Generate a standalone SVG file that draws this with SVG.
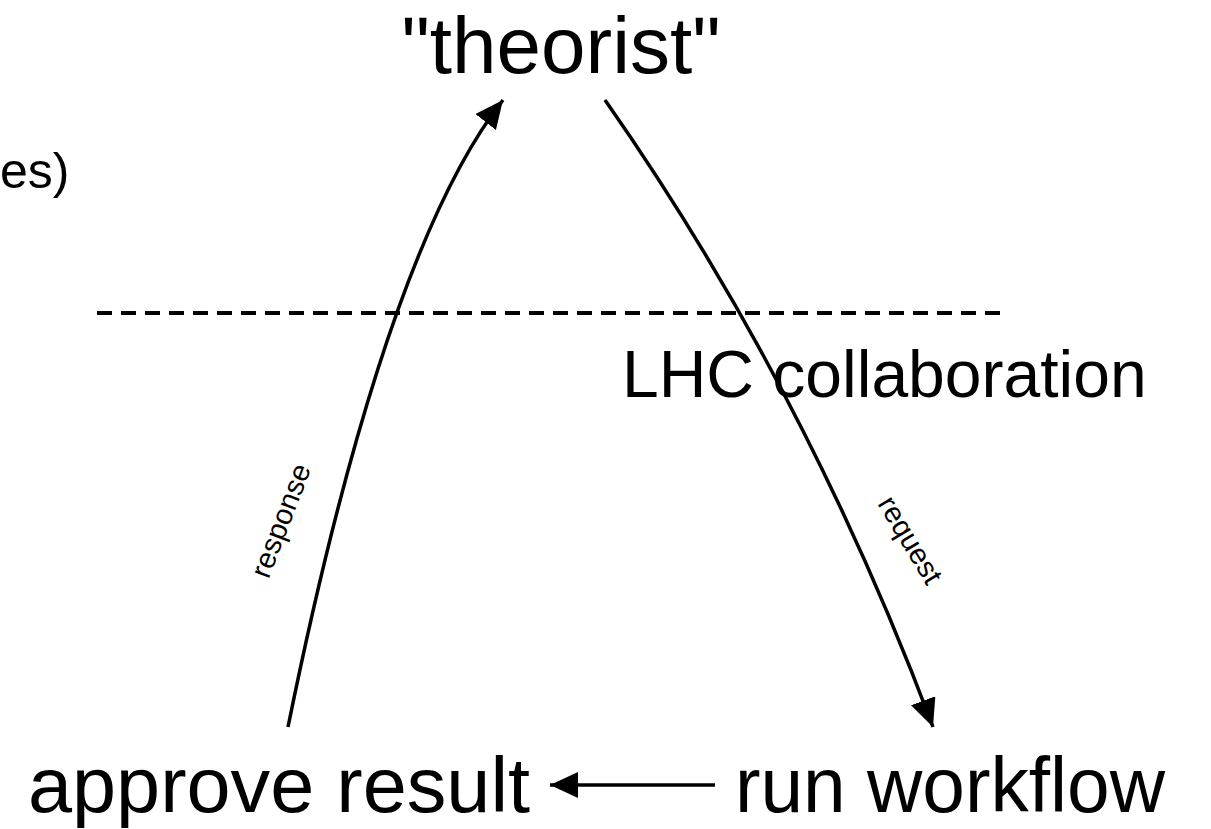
<svg xmlns="http://www.w3.org/2000/svg" width="1211" height="829" viewBox="0 0 1211 829">
  <style>
    text { font-family: "Liberation Sans", Arial, sans-serif; fill: #000; }
    .big { font-size: 78px; }
    .mid { font-size: 66px; }
    .small { font-size: 29px; }
    .edge { fill: none; stroke: #000; stroke-width: 3.5; }
  </style>
  <defs>
    <marker id="head" markerUnits="userSpaceOnUse" markerWidth="32" markerHeight="32" refX="28" refY="13" orient="auto">
      <path d="M0,0 L28,13 L0,26 Z" fill="#000"/>
    </marker>
  </defs>
  <rect width="1211" height="829" fill="#fff"/>

  <!-- partial label at left edge -->
  <text x="0" y="188" font-size="50px">es)</text>

  <!-- boundary between theorist and collaboration -->
  <line x1="97" y1="313" x2="1000" y2="313" stroke="#000" stroke-width="4" stroke-dasharray="15 9"/>

  <g id="theorist">
    <text x="561" y="73" font-size="80px" text-anchor="middle">"theorist"</text>
  </g>
  <g id="lhc">
    <text class="mid" x="622" y="397">LHC collaboration</text>
  </g>
  <g id="approve">
    <text class="big" x="28" y="812" textLength="502" lengthAdjust="spacingAndGlyphs">approve result</text>
  </g>
  <g id="run">
    <text class="big" x="735" y="812" textLength="430" lengthAdjust="spacingAndGlyphs">run workflow</text>
  </g>

  <g id="connectors">
    <path class="edge" d="M288,727 Q385,250 503,100" marker-end="url(#head)"/>
    <path class="edge" d="M605,100 Q805,386 933,727" marker-end="url(#head)"/>
    <line class="edge" x1="715" y1="785" x2="550" y2="785" marker-end="url(#head)"/>
    <text class="small" transform="translate(290,524) rotate(-69)" text-anchor="middle">response</text>
    <text class="small" transform="translate(902,545) rotate(59)" text-anchor="middle">request</text>
  </g>
</svg>
